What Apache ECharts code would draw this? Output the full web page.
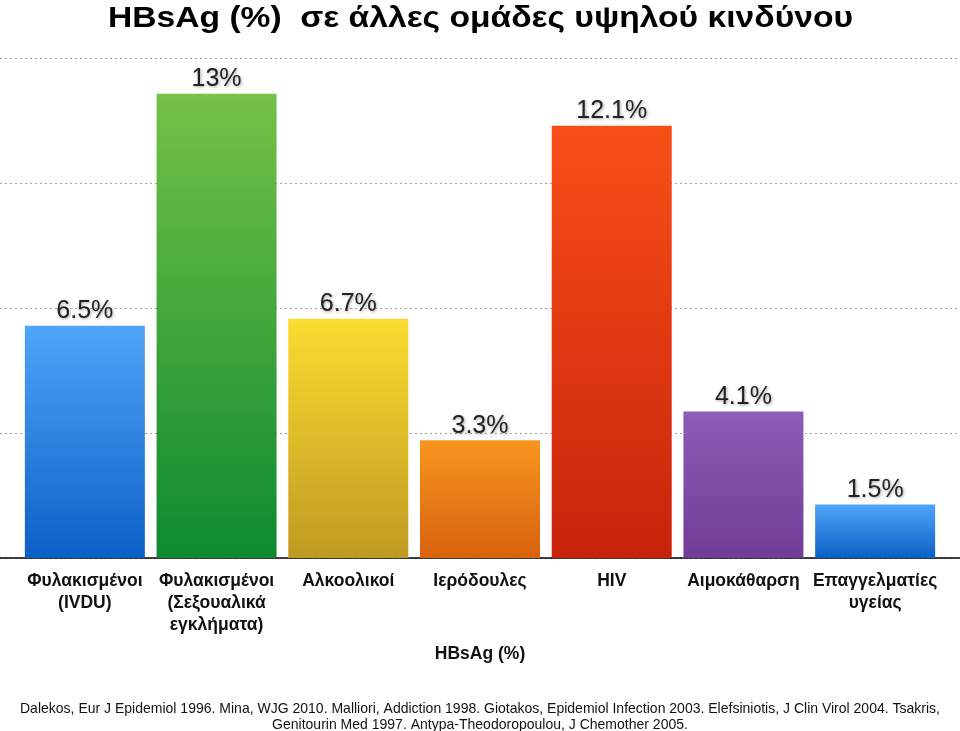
<!DOCTYPE html>
<html><head><meta charset="utf-8">
<script src="https://cdn.jsdelivr.net/npm/echarts@6/dist/echarts.min.js"></script>
<style>html,body{margin:0;padding:0;background:#fff}#c{width:960px;height:731px}</style>
</head><body><div id="c"></div>
<script>
const titleText = 'HBsAg (%)  σε άλλες ομάδες υψηλού κινδύνου';
const categories = ['Φυλακισμένοι\n(IVDU)', 'Φυλακισμένοι\n(Σεξουαλικά\nεγκλήματα)', 'Αλκοολικοί', 'Ιερόδουλες', 'HIV', 'Αιμοκάθαρση', 'Επαγγελματίες\nυγείας'];
const values = [6.5, 13, 6.7, 3.3, 12.1, 4.1, 1.5];
const valueLabels = ['6.5%', '13%', '6.7%', '3.3%', '12.1%', '4.1%', '1.5%'];
const axisName = 'HBsAg (%)';
const footerLines = ['Dalekos, Eur J Epidemiol 1996. Mina, WJG 2010. Malliori, Addiction 1998. Giotakos, Epidemiol Infection 2003. Elefsiniotis, J Clin Virol 2004. Tsakris,', 'Genitourin Med 1997. Antypa-Theodoropoulou, J Chemother 2005.'];
const colorStops = [
  ['#4fa5f7', '#0b60c6'],
  ['#74c246', '#0d8a30'],
  ['#fadd30', '#bf9a22'],
  ['#f7951f', '#d8620e'],
  ['#f84f18', '#c8230b'],
  ['#8b5db6', '#713c96'],
  ['#4fa5f7', '#0b60c6']
];
const font = '"Liberation Sans", Arial, Helvetica, sans-serif';
const cv = document.createElement('canvas').getContext('2d');
function measure(txt, f) { cv.font = f; return cv.measureText(txt).width; }
const titleFont = 'bold 30px ' + font;
const titleScale = 745 / measure(titleText, titleFont);
const footFont = '15px ' + font;
const footScale = 920 / measure(footerLines[0], footFont);

const chart = echarts.init(document.getElementById('c'), null, {renderer: 'canvas'});
chart.setOption({
  animation: false,
  title: [
    {text: axisName, left: 'center', top: 640, textStyle: {fontFamily: font, fontWeight: 'bold', fontSize: 17.5, color: '#111'}}
  ],
  graphic: [
    {type: 'text', x: 480.5, y: 4, scaleX: titleScale, style: {text: titleText, font: titleFont, fill: '#000', textAlign: 'center', textVerticalAlign: 'top'}},
    {type: 'text', x: 480, y: 717, scaleX: footScale, style: {text: footerLines.join('\n'), font: footFont, lineHeight: 16, fill: '#111', textAlign: 'center', textVerticalAlign: 'middle'}}
  ],
  grid: [
    {left: 0, right: 0, top: 58, bottom: 173},
    {left: 19, right: 19, top: 58, bottom: 173}
  ],
  xAxis: [
    {gridIndex: 0, type: 'value', min: 0, max: 1, show: true, axisLine: {show: true, onZero: false, lineStyle: {color: '#000', width: 1.5}}, axisTick: {show: false}, axisLabel: {show: false}, splitLine: {show: false}},
    {gridIndex: 1, type: 'category', data: categories, axisLine: {show: false}, axisTick: {show: false},
     axisLabel: {interval: 0, margin: 12, fontFamily: font, fontWeight: 'bold', fontSize: 17.5, lineHeight: 22, color: '#111', verticalAlign: 'top'}}
  ],
  yAxis: [
    {gridIndex: 0, type: 'value', min: 0, max: 14, interval: 3.5, axisLine: {show: false}, axisTick: {show: false}, axisLabel: {show: false},
     splitLine: {show: true, lineStyle: {type: [2, 3], color: '#a0a0a0', width: 1}}},
    {gridIndex: 1, type: 'value', min: 0, max: 14, interval: 3.5, show: false, splitLine: {show: false}}
  ],
  series: [{
    type: 'bar', xAxisIndex: 1, yAxisIndex: 1, barWidth: 120,
    data: values.map((v, i) => ({
      value: v,
      itemStyle: {color: new echarts.graphic.LinearGradient(0, 0, 0, 1, [{offset: 0, color: colorStops[i][0]}, {offset: 1, color: colorStops[i][1]}])},
      label: {formatter: valueLabels[i]}
    })),
    label: {show: true, position: 'top', distance: 2, fontFamily: font, fontSize: 25, color: '#222',
      textShadowColor: 'rgba(0,0,0,0.35)', textShadowBlur: 3, textShadowOffsetX: 1, textShadowOffsetY: 1}
  }]
});
</script></body></html>
